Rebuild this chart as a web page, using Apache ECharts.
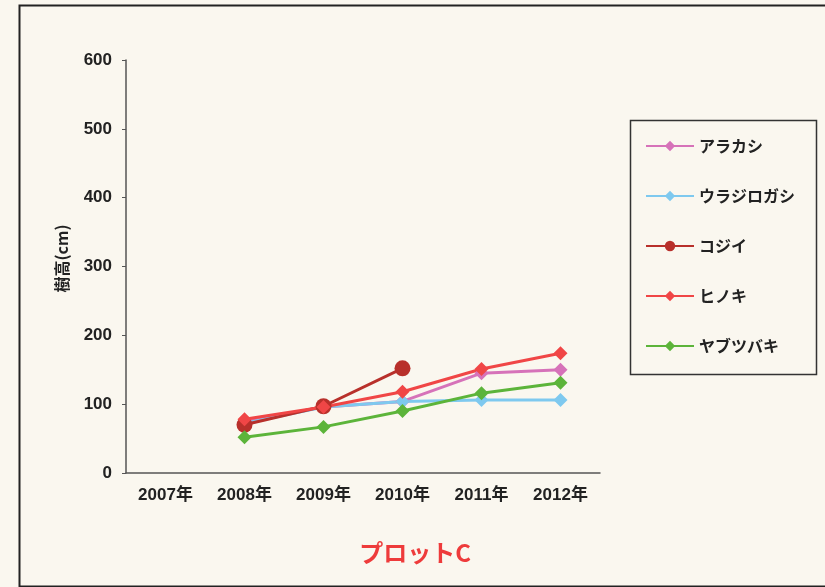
<!DOCTYPE html>
<html>
<head>
<meta charset="utf-8">
<script src="https://cdn.jsdelivr.net/npm/echarts@6/dist/echarts.min.js"></script>
<style>
  html, body { margin: 0; padding: 0; background: #faf7ef; }
  #chart { width: 825px; height: 587px; }
</style>
</head>
<body>
<div id="chart"></div>
<script>
// 樹高の推移（プロットC）
var years = ['2007年', '2008年', '2009年', '2010年', '2011年', '2012年'];
var arakashi = [null, 74, 96, 104, 145, 150];
var urajirogashi = [null, 72, 96, 104, 106, 106];
var kojii = [null, 70, 97, 152, null, null];
var hinoki = [null, 78, 96, 118, 151, 174];
var yabutsubaki = [null, 52, 67, 90, 116, 131];
var yTicks = [0, 100, 200, 300, 400, 500, 600];

var myChart = echarts.init(document.getElementById('chart'));

function line(name, data, color, symbol, size) {
    return {
        name: name,
        type: 'line',
        data: data,
        symbol: symbol,
        symbolSize: size,
        connectNulls: false,
        lineStyle: { color: color, width: 3 },
        itemStyle: { color: color }
    };
}

var option = {
    backgroundColor: '#faf7ef',
    textStyle: { fontFamily: 'Liberation Sans, Noto Sans CJK JP, sans-serif' },
    title: {
        text: 'プロットC',
        left: 410,
        top: 536,
        textAlign: 'center',
        textStyle: { color: '#ee3b3b', fontSize: 24, fontWeight: 'bold', fontFamily: 'Noto Sans CJK JP' }
    },
    graphic: [
        { type: 'rect', left: 17, top: 3, shape: { width: 830, height: 581 },
          style: { fill: null, stroke: '#222', lineWidth: 2 } },
        { type: 'rect', left: 628, top: 118, shape: { width: 186, height: 254 },
          style: { fill: null, stroke: '#333', lineWidth: 1.5 } }
    ],
    legend: {
        orient: 'vertical',
        left: 645,
        top: 138,
        padding: 0,
        itemGap: 34,
        itemWidth: 48,
        itemHeight: 13,
        textStyle: { fontSize: 16, fontWeight: 'bold', color: '#222', fontFamily: 'Noto Sans CJK JP' }
    },
    grid: { left: 126, right: 225, top: 60, bottom: 114 },
    xAxis: {
        type: 'category',
        data: years,
        boundaryGap: true,
        axisLine: { lineStyle: { color: '#555', width: 1.5 } },
        axisTick: { inside: true, length: 5, lineStyle: { color: '#555' } },
        axisLabel: { fontSize: 17, fontWeight: 'bold', color: '#222', margin: 14, fontFamily: 'Liberation Sans, Noto Sans CJK JP' }
    },
    yAxis: {
        type: 'value',
        min: yTicks[0],
        max: yTicks[yTicks.length - 1],
        interval: 100,
        name: '樹高(cm)',
        nameLocation: 'middle',
        nameGap: 56,
        nameRotate: 90,
        nameTextStyle: { fontSize: 16, fontWeight: 'bold', color: '#222', fontFamily: 'Noto Sans CJK JP', padding: [0, 0, 0, 16] },
        axisLine: { show: true, lineStyle: { color: '#555', width: 1.5 } },
        axisTick: { show: true, length: 4, lineStyle: { color: '#555' } },
        splitLine: { show: false },
        axisLabel: { fontSize: 17, fontWeight: 'bold', color: '#222', margin: 14 }
    },
    series: [
        line('アラカシ', arakashi, '#d672b9', 'diamond', 14),
        line('ウラジロガシ', urajirogashi, '#7ec9ef', 'diamond', 14),
        line('コジイ', kojii, '#b8302b', 'circle', 16),
        line('ヒノキ', hinoki, '#f04646', 'diamond', 14),
        line('ヤブツバキ', yabutsubaki, '#5cb43a', 'diamond', 14)
    ]
};

myChart.setOption(option);
</script>
</body>
</html>
